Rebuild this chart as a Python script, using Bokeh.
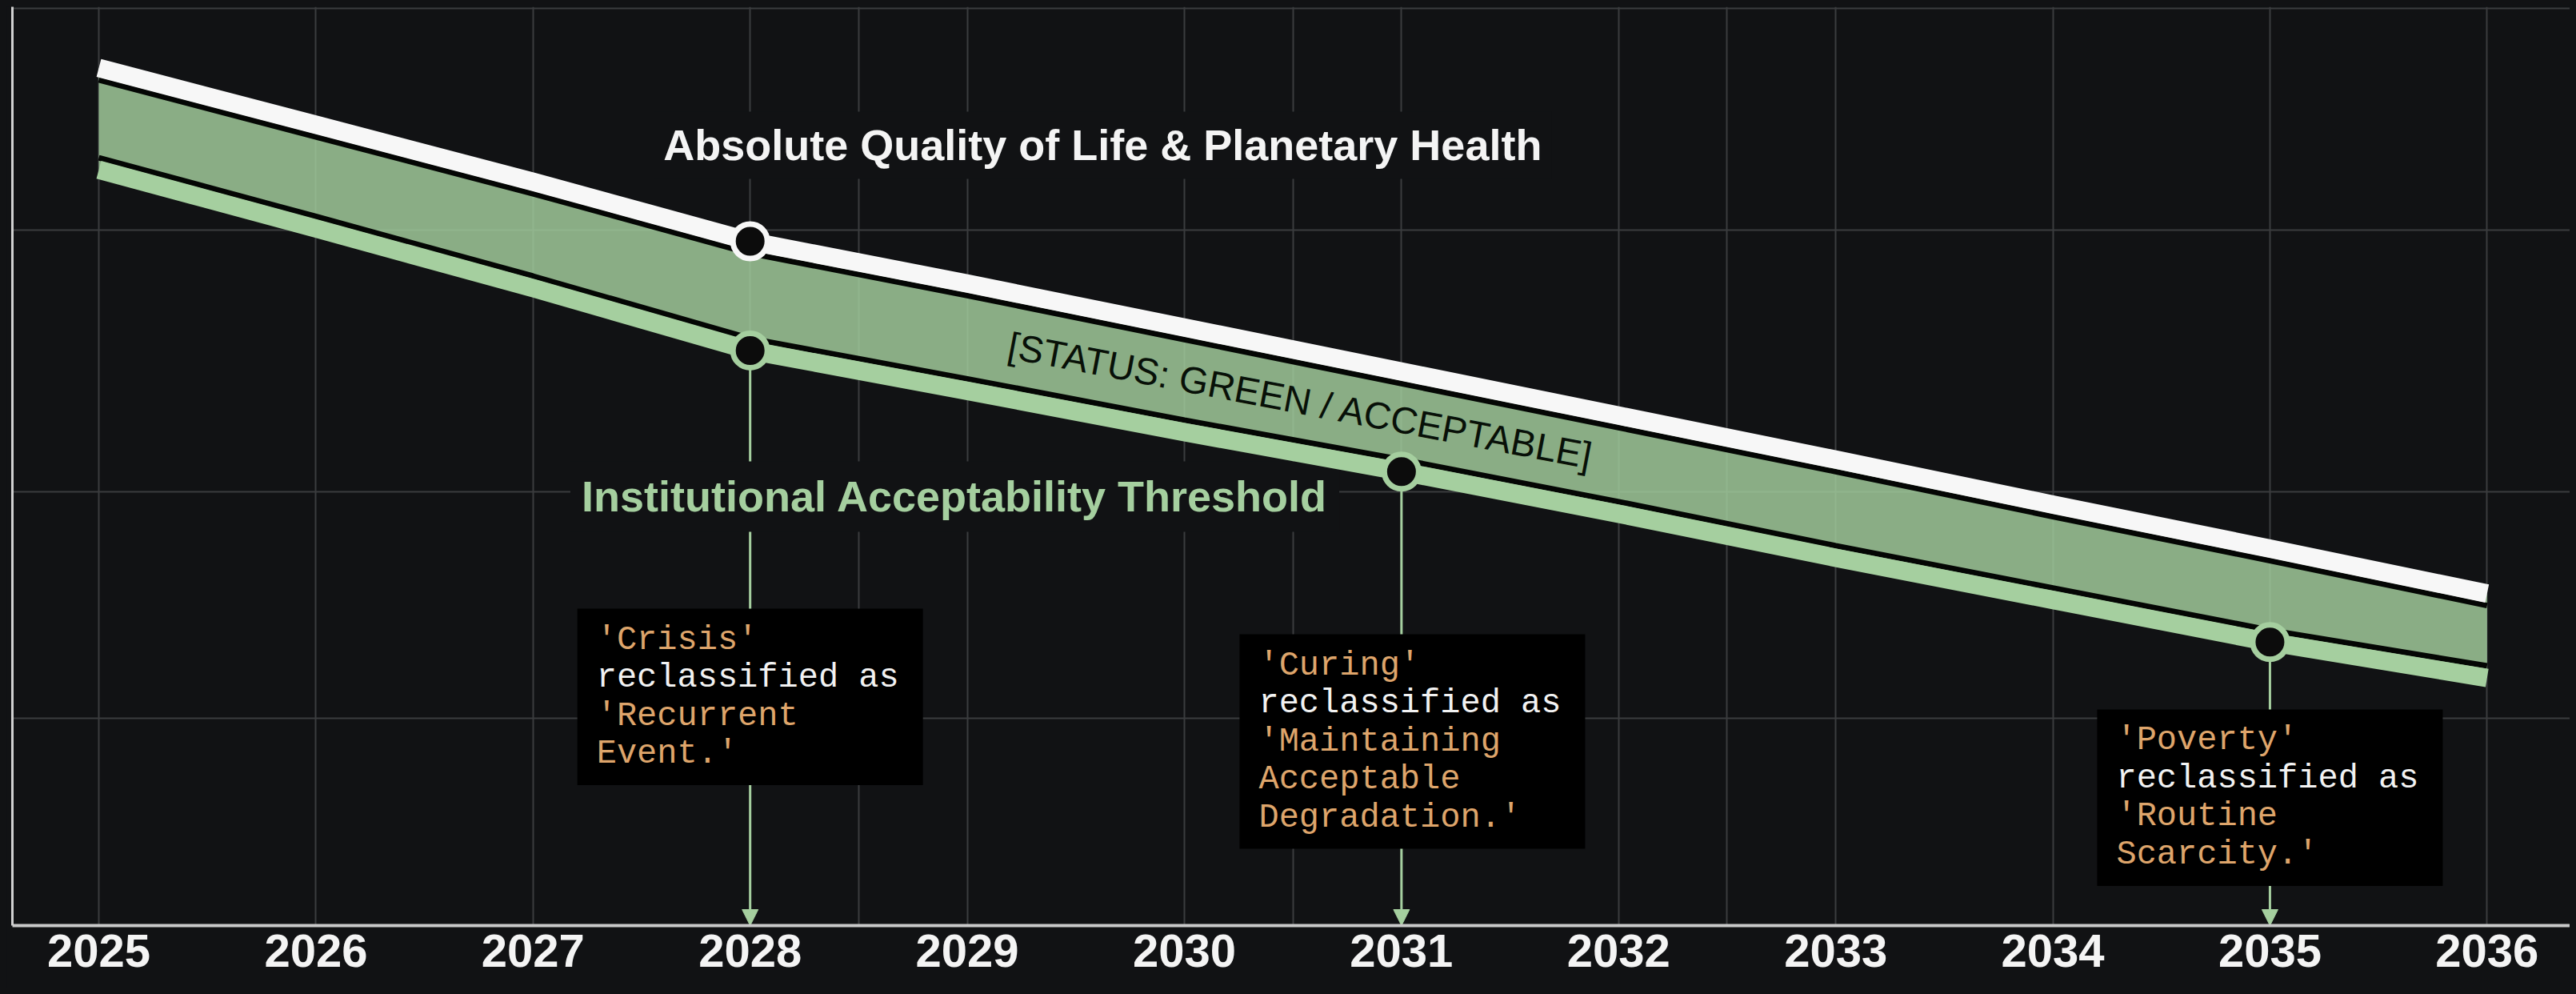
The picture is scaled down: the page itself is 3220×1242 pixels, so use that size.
from bokeh.plotting import figure
from bokeh.models import Range1d, FixedTicker, Arrow, NormalHead, ColumnDataSource
from bokeh.core.properties import value
from bokeh.embed import file_html
from bokeh.resources import INLINE

# ---------------- data ----------------
years = [2025, 2026, 2027, 2028, 2029, 2030, 2031, 2032, 2033, 2034, 2035, 2036]
tick_labels = [str(y) for y in years]
quality = [93.5, 87.3, 81.1, 74.6, 70.0, 65.2, 60.4, 55.6, 50.8, 45.9, 41.1, 36.2]
threshold = [82.4, 76.0, 69.5, 62.7, 58.3, 53.8, 49.5, 44.9, 40.1, 35.5, 30.9, 27.0]

quality_marker_years = [2028]
event_years = [2028, 2031, 2035]

note_x = [2028.0, 2031.05, 2035.0]
note_top = [34.55, 31.76, 23.56]
note_lines = [
    ["'Crisis'", "reclassified as", "'Recurrent", "Event.'"],
    ["'Curing'", "reclassified as", "'Maintaining", "Acceptable", "Degradation.'"],
    ["'Poverty'", "reclassified as", "'Routine", "Scarcity.'"],
]
note_kinds = [
    ["term", "plain", "term", "term"],
    ["term", "plain", "term", "term", "term"],
    ["term", "plain", "term", "term"],
]

grid_x = years + [2028.5, 2030.5, 2032.5]
grid_y = [22.6, 47.3, 75.8, 100.0]

quality_label = "Absolute Quality of Life & Planetary Health"
quality_label_pos = (2027.556, 85.08)
threshold_label = "Institutional Acceptability Threshold"
threshold_label_pos = (2027.172, 46.77)
status_label = "[STATUS: GREEN / ACCEPTABLE]"
status_label_pos = (2030.538, 57.24)

# ---------------- style ----------------
BG = "#111214"
WHITE = "#f7f7f7"
GREEN = "#a5cf9f"
ORANGE = "#dea56b"
GRID = "#3b3c3e"
PXU = 11.46          # screen px per y unit
EDGE = 15.0 / PXU    # offset of black edge lines
LINE_H = 47.5
PAD_Y = 15.25
BOX_W = 432

p = figure(width=3204, height=1226,
           x_range=Range1d(2024.602, 2036.382), y_range=Range1d(0, 100.17),
           output_backend="svg", toolbar_location=None,
           background_fill_color=BG, border_fill_color=BG,
           outline_line_color=None,
           min_border_left=7, min_border_right=0, min_border_top=0, min_border_bottom=78)

# axes
p.xaxis.ticker = FixedTicker(ticks=years)
p.xaxis.major_label_overrides = {y: l for y, l in zip(years, tick_labels)}
p.xaxis.major_label_text_font = "Liberation Sans"
p.xaxis.major_label_text_font_style = "bold"
p.xaxis.major_label_text_font_size = "58px"
p.xaxis.major_label_text_color = "#f4f4f4"
p.xaxis.major_label_standoff = 11
p.xaxis.major_tick_line_color = None
p.xaxis.minor_tick_line_color = None
p.xaxis.major_tick_out = 0
p.xaxis.minor_tick_out = 0
p.xaxis.axis_line_color = "#c9c9c9"
p.xaxis.axis_line_width = 4

p.yaxis.ticker = FixedTicker(ticks=[])
p.yaxis.major_tick_line_color = None
p.yaxis.minor_tick_line_color = None
p.yaxis.major_tick_out = 0
p.yaxis.minor_tick_out = 0
p.yaxis.major_label_standoff = 0
p.yaxis.axis_line_color = "#d0d0d0"
p.yaxis.axis_line_width = 3

p.xgrid.ticker = FixedTicker(ticks=grid_x)
p.ygrid.ticker = FixedTicker(ticks=grid_y)
p.grid.grid_line_color = GRID
p.grid.grid_line_width = 2

# arrows (under glyphs)
thr_at = dict(zip(years, threshold))
q_at = dict(zip(years, quality))
for yr in event_years:
    arr = Arrow(x_start=yr, y_start=thr_at[yr], x_end=yr, y_end=0,
                line_color=GREEN, line_width=3,
                end=NormalHead(size=20, fill_color=GREEN, line_color=GREEN, line_width=1),
                level="underlay")
    p.add_layout(arr)

# labels with background (drawn before the band so lines stay on top)
p.text(x=[quality_label_pos[0]], y=[quality_label_pos[1]], text=[quality_label],
       text_font=value("Liberation Sans"), text_font_style="bold", text_font_size="54px",
       text_color="#f4f4f4", text_align="left", text_baseline="middle",
       background_fill_color=BG, padding=12)
p.text(x=[threshold_label_pos[0]], y=[threshold_label_pos[1]], text=[threshold_label],
       text_font=value("Liberation Sans"), text_font_style="bold", text_font_size="54px",
       text_color=GREEN, text_align="left", text_baseline="middle",
       background_fill_color=BG, padding=14)

# band
p.varea(x=years, y1=threshold, y2=quality, fill_color=GREEN, fill_alpha=0.82)
p.line(years, [q - EDGE for q in quality], line_color="#040604", line_width=7)
p.line(years, [t + EDGE for t in threshold], line_color="#040604", line_width=7)
p.line(years, quality, line_color=WHITE, line_width=23, line_join="miter")
p.line(years, threshold, line_color=GREEN, line_width=23, line_join="miter")

p.text(x=[status_label_pos[0]], y=[status_label_pos[1]], text=[status_label],
       angle=-10.8, angle_units="deg",
       text_font=value("Liberation Sans"), text_font_size="47px",
       text_color="#081008", text_align="center", text_baseline="middle")

# markers
p.scatter(x=quality_marker_years, y=[q_at[y] for y in quality_marker_years],
          size=43, fill_color="#0c0c0c", line_color=WHITE, line_width=7)
p.scatter(x=event_years, y=[thr_at[y] for y in event_years],
          size=43, fill_color="#0c0c0c", line_color=GREEN, line_width=7)

# note boxes
box_h = [2 * PAD_Y + LINE_H * len(ls) for ls in note_lines]
p.rect(x=note_x, y=[t - h / 2 / PXU for t, h in zip(note_top, box_h)],
       width=BOX_W, height=box_h, width_units="screen", height_units="screen",
       fill_color="#000000", line_color=None)

tx, ty, tt, tc, toff = [], [], [], [], []
for bx, top, lines, kinds in zip(note_x, note_top, note_lines, note_kinds):
    for i, (ln, kd) in enumerate(zip(lines, kinds)):
        tx.append(bx)
        ty.append(top)
        tt.append(ln)
        tc.append(ORANGE if kd == "term" else "#f2f2f2")
        toff.append(PAD_Y + LINE_H / 2 + LINE_H * i)
src = ColumnDataSource(dict(x=tx, y=ty, text=tt, color=tc, yoff=toff))
p.text(x="x", y="y", text="text", text_color="color", source=src,
       x_offset=-BOX_W / 2 + 24, y_offset="yoff",
       text_font=value("Liberation Mono"), text_font_size="42px",
       text_align="left", text_baseline="middle")

html = file_html(p, INLINE, title="Acceptability Threshold")
html = html.replace("<body>", '<body style="background-color:#111214; margin:8px;">')
open("out.html", "w").write(html)
